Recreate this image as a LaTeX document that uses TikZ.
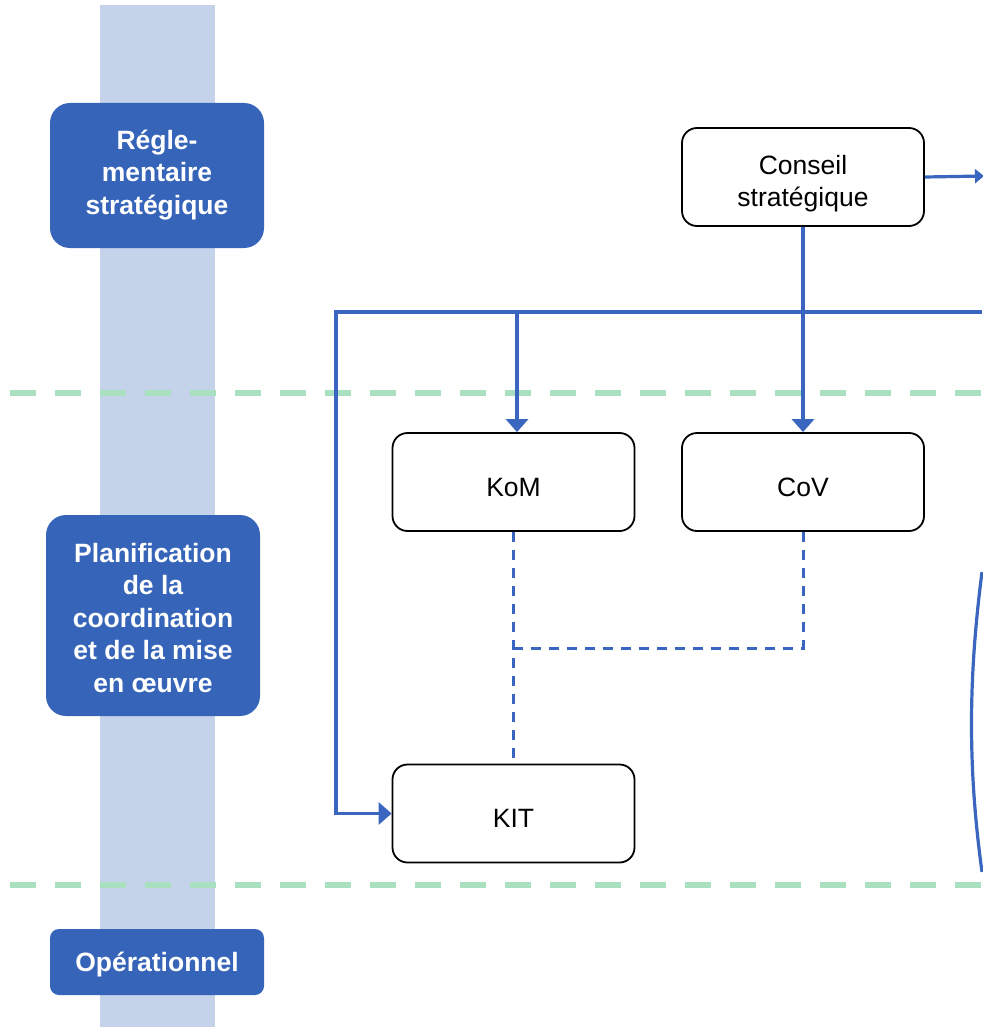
\documentclass[tikz,border=0pt]{standalone}
\usepackage{fontspec}
\setmainfont{Liberation Sans}
\usetikzlibrary{arrows.meta}
\definecolor{band}{HTML}{C4D2EA}
\definecolor{lvl}{HTML}{3564B9}
\definecolor{flow}{HTML}{3A66C0}
\definecolor{sep}{HTML}{A8E0C0}
% centred block of lines, drawn lowered while keeping its natural size
\newcommand\boxtext[2][-8pt]{\raisebox{#1}[\height][\depth]{\begin{tabular}{@{}c@{}}#2\end{tabular}}}
\tikzset{
  level/.style={fill=lvl, draw=none, rounded corners=#1, text=white,
    font=\fontsize{26.5}{32.5}\selectfont\bfseries,
    minimum width=214pt, inner sep=0pt},
  level/.default=20pt,
  body/.style={draw=black, line width=1.8pt, fill=white, rounded corners=15pt,
    minimum width=242pt, minimum height=98pt, inner sep=0pt,
    font=\fontsize{26.5}{32}\selectfont},
  flowline/.style={draw=flow, line width=3.2pt},
  flowarrow/.style={flowline, -{Triangle[length=13pt,width=22pt]}},
  smallarrow/.style={flowline, -{Triangle[length=9pt,width=14pt]}},
  flowdash/.style={draw=flow, line width=3pt, dash pattern=on 10pt off 8pt},
  separator/.style={draw=sep, line width=5.5pt, dash pattern=on 26pt off 19pt}
}
\begin{document}
\begin{tikzpicture}[x=1pt,y=-1pt]
\useasboundingbox (0,0) rectangle (982,1027);
% background band behind the level labels
\fill[band] (100,5) rectangle (215,1027);
% separators between levels
\draw[separator] (10,393) -- (982,393);
\draw[separator] (10,885) -- (982,885);
% level labels
\node[level, minimum height=145pt] (lv1) at (157,175.5) {\boxtext[0pt]{Régle-\\mentaire\\stratégique}};
\node[level, minimum height=201pt] (lv2) at (153,615.5) {\boxtext[-5pt]{Planification\\de la\\coordination\\et de la mise\\en œuvre}};
\node[level=9pt, minimum height=66pt] (lv3) at (157,962) {\boxtext[-3pt]{Opérationnel}};
% bodies
\node[body] (cs) at (803,177) {\boxtext[-7pt]{Conseil\\stratégique}};
\node[body] (kom) at (513.5,482) {\boxtext{KoM}};
\node[body] (cov) at (803,482) {\boxtext{CoV}};
\node[body] (kit) at (513.5,813.5) {\boxtext{KIT}};
% free ends at the right border
\coordinate (csout) at (984,176);
\coordinate (busL) at (336,312);
\coordinate (busR) at (982,312);
\coordinate (busK) at (517,312);
\coordinate (join) at (513.5,648);
% solid connectors
\draw[smallarrow] (cs.east) -- (csout);
\draw[flowarrow] (cs.south) -- (cov.north);
\draw[flowarrow] (busR) -- (busL) |- (kit.west);
\draw[flowarrow] (busK) -- (busK |- kom.north);
% dashed connectors
\draw[flowdash] (kom.south) -- (kit.north);
\draw[flowdash] (cov.south) |- (join);
% arc at the right border
\draw[flowline] (982,572) .. controls (968,680) and (968,770) .. (982,872);
\end{tikzpicture}
\end{document}
